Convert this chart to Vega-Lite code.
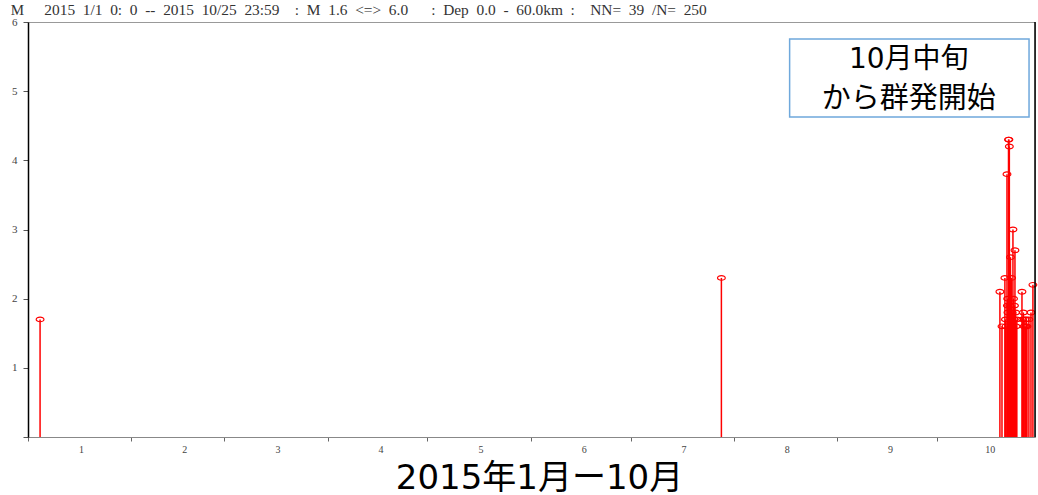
{
  "$schema": "https://vega.github.io/schema/vega-lite/v6.json",
  "autosize": "none",
  "width": 1007,
  "height": 415,
  "padding": {"left": 28, "top": 22, "right": 3, "bottom": 58},
  "background": "white",
  "config": {"view": {"stroke": "#999", "strokeWidth": 1}},
  "title": {
    "text": "2015\u00a0\u00a01/1\u00a0\u00a00:\u00a0\u00a00\u00a0\u00a0--\u00a0\u00a02015\u00a0\u00a010/25\u00a0\u00a023:59\u00a0\u00a0\u00a0\u00a0:\u00a0\u00a0M\u00a0\u00a01.6\u00a0\u00a0<=>\u00a0\u00a06.0\u00a0\u00a0\u00a0\u00a0\u00a0\u00a0:\u00a0\u00a0Dep\u00a0\u00a00.0\u00a0\u00a0-\u00a0\u00a060.0km\u00a0\u00a0:\u00a0\u00a0\u00a0\u00a0NN=\u00a0\u00a039\u00a0\u00a0/N=\u00a0\u00a0250",
    "anchor": "start",
    "font": "Liberation Serif",
    "fontSize": 15.4,
    "fontWeight": "normal",
    "color": "#333",
    "dx": 34,
    "dy": 20,
    "offset": 4
  },
  "datasets": {
    "quakes": [
      {"t": "2015-01-04T15:00:00Z", "M": 1.7},
      {"t": "2015-07-28T07:00:00Z", "M": 2.3},
      {"t": "2015-10-19T23:00:00Z", "M": 2.1},
      {"t": "2015-10-20T14:00:00Z", "M": 1.6},
      {"t": "2015-10-21T11:00:00Z", "M": 2.3},
      {"t": "2015-10-21T15:00:00Z", "M": 1.7},
      {"t": "2015-10-21T19:00:00Z", "M": 1.6},
      {"t": "2015-10-22T02:00:00Z", "M": 3.8},
      {"t": "2015-10-22T05:00:00Z", "M": 1.9},
      {"t": "2015-10-22T07:00:00Z", "M": 2.0},
      {"t": "2015-10-22T09:00:00Z", "M": 1.8},
      {"t": "2015-10-22T13:00:00Z", "M": 4.3},
      {"t": "2015-10-22T16:00:00Z", "M": 4.3},
      {"t": "2015-10-22T19:00:00Z", "M": 4.2},
      {"t": "2015-10-22T23:00:00Z", "M": 1.9},
      {"t": "2015-10-23T03:00:00Z", "M": 2.6},
      {"t": "2015-10-23T07:00:00Z", "M": 1.7},
      {"t": "2015-10-23T11:00:00Z", "M": 2.3},
      {"t": "2015-10-23T15:00:00Z", "M": 1.8},
      {"t": "2015-10-23T18:00:00Z", "M": 1.6},
      {"t": "2015-10-23T21:00:00Z", "M": 3.0},
      {"t": "2015-10-24T01:00:00Z", "M": 2.0},
      {"t": "2015-10-24T04:00:00Z", "M": 1.7},
      {"t": "2015-10-24T08:00:00Z", "M": 1.9},
      {"t": "2015-10-24T11:30:00Z", "M": 2.7},
      {"t": "2015-10-24T16:00:00Z", "M": 1.8},
      {"t": "2015-10-24T20:00:00Z", "M": 1.6},
      {"t": "2015-10-25T01:00:00Z", "M": 1.7},
      {"t": "2015-10-26T14:00:00Z", "M": 2.1},
      {"t": "2015-10-26T19:00:00Z", "M": 1.7},
      {"t": "2015-10-27T00:00:00Z", "M": 1.8},
      {"t": "2015-10-27T05:00:00Z", "M": 1.6},
      {"t": "2015-10-27T11:00:00Z", "M": 1.7},
      {"t": "2015-10-27T17:00:00Z", "M": 1.6},
      {"t": "2015-10-27T22:00:00Z", "M": 1.7},
      {"t": "2015-10-28T02:00:00Z", "M": 1.6},
      {"t": "2015-10-28T16:00:00Z", "M": 1.7},
      {"t": "2015-10-29T07:00:00Z", "M": 1.8},
      {"t": "2015-10-29T21:00:00Z", "M": 2.2}
    ],
    "one": [{}]
  },
  "layer": [
    {
      "data": {"name": "quakes"},
      "mark": {"type": "rule", "color": "#ff0000", "strokeWidth": 1.5},
      "encoding": {
        "x": {
          "field": "t",
          "type": "temporal",
          "scale": {
            "type": "utc",
            "domain": [
              {"year": 2015, "month": 1, "date": 1, "utc": true},
              {"year": 2015, "month": 10, "date": 30, "hours": 12, "utc": true}
            ]
          },
          "axis": {
            "title": "2015年1月ー10月",
            "titleFont": "DejaVu Sans, Noto Sans CJK JP",
            "titleFontSize": 34,
            "titleFontWeight": "normal",
            "titleColor": "#000",
            "titleX": 511,
            "titleY": 41,
            "titleAlign": "center",
            "titleBaseline": "middle",
            "values": [
              {"year": 2015, "month": 1, "date": 1, "utc": true},
              {"year": 2015, "month": 2, "date": 1, "utc": true},
              {"year": 2015, "month": 3, "date": 1, "utc": true},
              {"year": 2015, "month": 4, "date": 1, "utc": true},
              {"year": 2015, "month": 5, "date": 1, "utc": true},
              {"year": 2015, "month": 6, "date": 1, "utc": true},
              {"year": 2015, "month": 7, "date": 1, "utc": true},
              {"year": 2015, "month": 8, "date": 1, "utc": true},
              {"year": 2015, "month": 9, "date": 1, "utc": true},
              {"year": 2015, "month": 10, "date": 1, "utc": true}
            ],
            "labelExpr": "utcFormat(datum.value, '%-m')",
            "labelOffset": 53,
            "labelFlush": false,
            "labelBound": false,
            "labelOverlap": false,
            "labelFont": "Liberation Serif",
            "labelFontSize": 10,
            "labelColor": "#444",
            "labelPadding": 3,
            "tickSize": 4,
            "tickColor": "#666",
            "domainColor": "#888",
            "grid": false
          }
        },
        "y": {
          "field": "M",
          "type": "quantitative",
          "scale": {"domain": [0, 6], "nice": false},
          "axis": {
            "title": "M",
            "titleAngle": 0,
            "titleX": -11,
            "titleY": -8,
            "titleAlign": "center",
            "titleBaseline": "alphabetic",
            "titleFont": "Liberation Serif",
            "titleFontSize": 15,
            "titleFontWeight": "normal",
            "titleColor": "#333",
            "values": [0, 1, 2, 3, 4, 5, 6],
            "format": "d",
            "labelExpr": "datum.value == 0 ? '' : datum.label",
            "labelFont": "Liberation Serif",
            "labelFontSize": 11,
            "labelColor": "#444",
            "labelPadding": 6,
            "tickSize": 5,
            "tickColor": "#555",
            "domainColor": "#000",
            "domainWidth": 1.5,
            "grid": false
          }
        },
        "y2": {"datum": 0}
      }
    },
    {
      "data": {"name": "quakes"},
      "mark": {
        "type": "point",
        "shape": "M-1,0A1,0.6 0 1,1 1,0A1,0.6 0 1,1 -1,0Z",
        "filled": false,
        "stroke": "#ff0000",
        "strokeWidth": 1.2,
        "size": 60,
        "opacity": 1
      },
      "encoding": {
        "x": {"field": "t", "type": "temporal"},
        "y": {"field": "M", "type": "quantitative"}
      }
    },
    {
      "data": {"name": "one"},
      "mark": {"type": "rect", "fill": "white", "stroke": "#6fa8dc", "strokeWidth": 1.5},
      "encoding": {
        "x": {"datum": {"year": 2015, "month": 8, "date": 17, "hours": 19, "utc": true}, "type": "temporal"},
        "x2": {"datum": {"year": 2015, "month": 10, "date": 28, "hours": 17, "utc": true}},
        "y": {"datum": 5.754, "type": "quantitative"},
        "y2": {"datum": 4.626}
      }
    },
    {
      "data": {"name": "one"},
      "mark": {"type": "text", "text": "10月中旬", "font": "DejaVu Sans, Noto Sans CJK JP", "fontSize": 28, "color": "#000", "align": "center", "baseline": "middle"},
      "encoding": {
        "x": {"datum": {"year": 2015, "month": 9, "date": 22, "hours": 14, "utc": true}, "type": "temporal"},
        "y": {"datum": 5.45, "type": "quantitative"}
      }
    },
    {
      "data": {"name": "one"},
      "mark": {"type": "text", "text": "から群発開始", "font": "Noto Sans CJK JP", "fontSize": 29, "color": "#000", "align": "center", "baseline": "middle"},
      "encoding": {
        "x": {"datum": {"year": 2015, "month": 9, "date": 22, "hours": 14, "utc": true}, "type": "temporal"},
        "y": {"datum": 4.89, "type": "quantitative"}
      }
    },
    {
      "data": {"name": "one"},
      "mark": {"type": "rule", "color": "#000", "strokeWidth": 1.5},
      "encoding": {
        "x": {"datum": {"year": 2015, "month": 10, "date": 30, "hours": 12, "utc": true}, "type": "temporal"},
        "y": {"datum": 0, "type": "quantitative"},
        "y2": {"datum": 6}
      }
    }
  ]
}
